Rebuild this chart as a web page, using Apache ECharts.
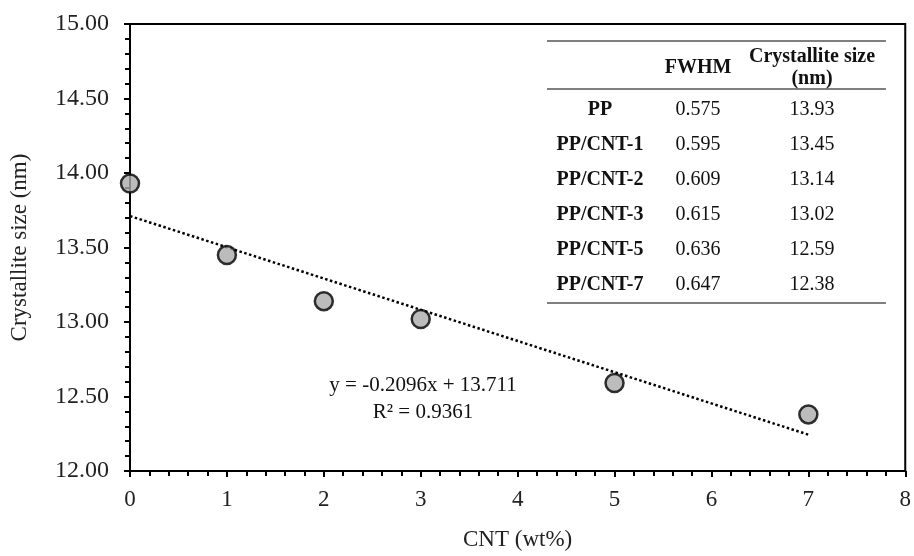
<!DOCTYPE html>
<html>
<head>
<meta charset="utf-8">
<script src="https://cdn.jsdelivr.net/npm/echarts@6/dist/echarts.min.js"></script>
<style>
  html, body { margin: 0; padding: 0; background: #fff; }
  #chart { width: 914px; height: 556px; }
</style>
</head>
<body>
<div id="chart"></div>
<script>
// measured points
const cntLoading = [0, 1, 2, 3, 5, 7]
const crystalSize = [13.93, 13.45, 13.14, 13.02, 12.59, 12.38]

// linear trend line endpoints
const trendX = [0, 7]
const trendY = [13.711, 12.244]

// inset table
const sampleNames = ['PP', 'PP/CNT-1', 'PP/CNT-2', 'PP/CNT-3', 'PP/CNT-5', 'PP/CNT-7']
const fwhmValues = ['0.575', '0.595', '0.609', '0.615', '0.636', '0.647']
const sizeValues = ['13.93', '13.45', '13.14', '13.02', '12.59', '12.38']

const font = 'Liberation Serif, Times New Roman, serif'
const chart = echarts.init(document.getElementById('chart'))

// table built as graphic text
const tableEls = []
const colX = [600, 698, 812]
const rowY0 = 110
const rowStep = 35
const txt = (x, y, s, bold, size) => ({
  type: 'text', x: x, y: y, silent: true,
  style: {
    text: s, font: (bold ? 'bold ' : '') + (size || 20) + 'px ' + font,
    fill: '#111', align: 'center', verticalAlign: 'middle'
  }
})
const rule = (y) => ({
  type: 'line', silent: true,
  shape: { x1: 547, y1: y, x2: 886, y2: y },
  style: { stroke: '#555', lineWidth: 1.5 }
})
tableEls.push(rule(41), rule(89), rule(303))
tableEls.push(txt(colX[1], 68, 'FWHM', true))
tableEls.push(txt(colX[2], 57, 'Crystallite size', true))
tableEls.push(txt(colX[2], 79, '(nm)', true))
sampleNames.forEach((n, i) => {
  const y = rowY0 + i * rowStep
  tableEls.push(txt(colX[0], y, n, true))
  tableEls.push(txt(colX[1], y, fwhmValues[i], false))
  tableEls.push(txt(colX[2], y, sizeValues[i], false))
})
// trend equation
tableEls.push(txt(423, 385, 'y = -0.2096x + 13.711', false, 21))
tableEls.push(txt(423, 412, 'R² = 0.9361', false, 21))

chart.setOption({
  animation: false,
  backgroundColor: '#fff',
  grid: {
    left: 129, right: 6, top: 24, bottom: 84,
    show: true, borderColor: '#000', borderWidth: 2
  },
  xAxis: {
    type: 'value', min: 0, max: 8, interval: 1,
    name: 'CNT (wt%)', nameLocation: 'middle', nameGap: 57,
    nameTextStyle: { fontFamily: font, fontSize: 23, color: '#222' },
    axisLine: { show: true, lineStyle: { color: '#000', width: 2 } },
    axisTick: { show: true, length: 6, lineStyle: { color: '#000', width: 2 } },
    minorTick: { show: true, splitNumber: 5, length: 5, lineStyle: { color: '#000', width: 2 } },
    axisLabel: { fontFamily: font, fontSize: 23, color: '#222', margin: 17 },
    splitLine: { show: false }
  },
  yAxis: {
    type: 'value', min: 12, max: 15, interval: 0.5,
    name: 'Crystallite size (nm)', nameLocation: 'middle', nameGap: 99,
    nameTextStyle: { fontFamily: font, fontSize: 23, color: '#222' },
    axisLine: { show: true, lineStyle: { color: '#000', width: 2 } },
    axisTick: { show: true, length: 6, lineStyle: { color: '#000', width: 2 } },
    minorTick: { show: true, splitNumber: 5, length: 5, lineStyle: { color: '#000', width: 2 } },
    axisLabel: {
      fontFamily: font, fontSize: 24, color: '#222', margin: 21,
      formatter: v => v.toFixed(2)
    },
    splitLine: { show: false }
  },
  series: [
    {
      type: 'line',
      data: trendX.map((x, i) => [x, trendY[i]]),
      showSymbol: false,
      symbol: 'none',
      lineStyle: { color: '#000', width: 2.5, type: [2.5, 2.5] },
      silent: true,
      z: 2
    },
    {
      type: 'scatter',
      data: cntLoading.map((x, i) => [x, crystalSize[i]]),
      symbol: 'circle',
      symbolSize: 18,
      itemStyle: { color: '#ababab', borderColor: '#000', borderWidth: 2.5 },
      z: 3
    }
  ],
  graphic: tableEls
})
</script>
</body>
</html>
